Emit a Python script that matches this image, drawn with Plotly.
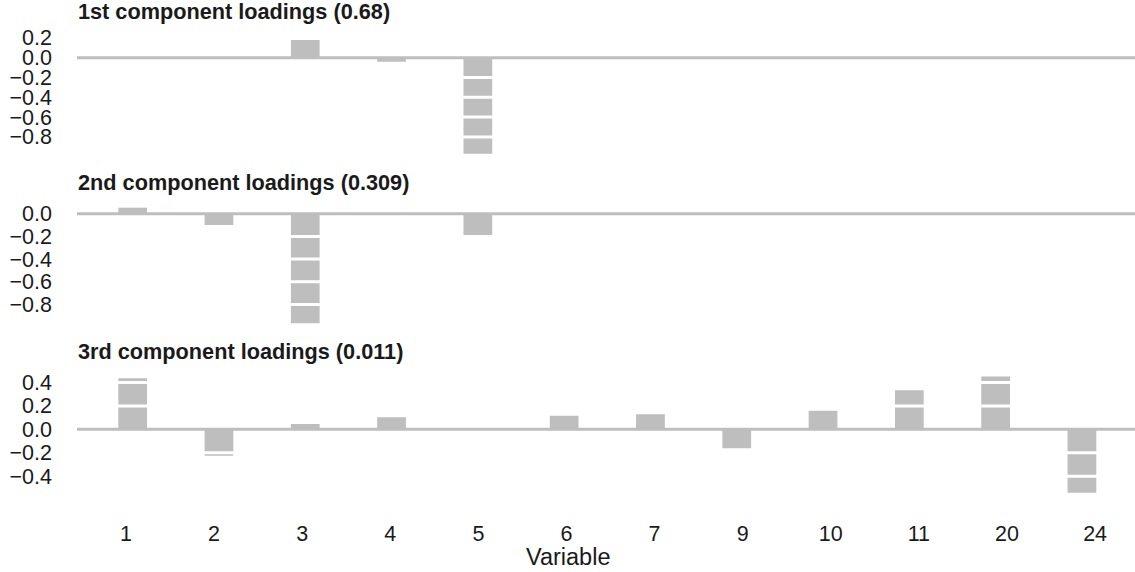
import plotly.graph_objects as go
from plotly.subplots import make_subplots

# ---- data ----
variables = ["1", "2", "3", "4", "5", "6", "7", "9", "10", "11", "20", "24"]
comp1 = [0.0, 0.0, 0.179, -0.04, -0.97, 0.0, 0.0, 0.0, 0.0, 0.0, 0.0, 0.0]
comp2 = [0.053, -0.10, -0.966, 0.0, -0.188, 0.0, 0.0, 0.0, 0.0, 0.0, 0.0, 0.0]
comp3 = [0.436, -0.226, 0.045, 0.103, 0.0, 0.116, 0.128, -0.162, 0.159, 0.333, 0.45, -0.542]
titles = ["1st component loadings (0.68)",
          "2nd component loadings (0.309)",
          "3rd component loadings (0.011)"]
tick_sets = [[0.2, 0.0, -0.2, -0.4, -0.6, -0.8],
             [0.0, -0.2, -0.4, -0.6, -0.8],
             [0.4, 0.2, 0.0, -0.2, -0.4]]
x_label = "Variable"

# ---- layout constants (pixels) ----
W, H = 1135, 572
left_px = 77
panel_px = [(34.3, 159.4), (201.9, 329.1), (370.8, 498.6)]
title_px = [11.3, 182.8, 351.7]
BAR = "#bebebe"
FONT = "Liberation Sans, Arial, sans-serif"
TXT = "#1a1a1a"
TICK_SIZE = 21.5

fig = make_subplots(rows=3, cols=1, shared_xaxes=False)
series = [comp1, comp2, comp3]

for i, vals in enumerate(series):
    r = i + 1
    fig.add_trace(go.Bar(x=variables, y=vals, marker=dict(color=BAR, line=dict(width=0)),
                         showlegend=False, hoverinfo="x+y"), row=r, col=1)
    lo = min(vals + [0.0]); hi = max(vals + [0.0])
    pad = 0.05 * (hi - lo)
    top, bot = panel_px[i]
    yname = "yaxis" if r == 1 else f"yaxis{r}"
    xname = "xaxis" if r == 1 else f"xaxis{r}"
    fig.layout[yname].update(
        domain=[1 - bot / H, 1 - top / H], range=[lo - pad, hi + pad], automargin=False,
        tickvals=tick_sets[i],
        ticktext=[("\u2212" if t < 0 else "") + f"{abs(t):.1f}" for t in tick_sets[i]],
        showgrid=False, zeroline=False, showline=False, ticks="",
        ticklabelstandoff=24, tickfont=dict(family=FONT, size=TICK_SIZE, color=TXT))
    fig.layout[xname].update(
        domain=[left_px / W, 1.0], range=[-0.645, 11.615], type="category", automargin=False,
        categoryorder="array", categoryarray=variables,
        showgrid=False, zeroline=False, showline=False, ticks="", showticklabels=False)
    yref = "y" if r == 1 else f"y{r}"
    xdom = "x domain" if r == 1 else f"x{r} domain"
    # white gridlines drawn over the bars
    for t in tick_sets[i]:
        if t != 0:
            fig.add_shape(type="line", xref=xdom, yref=yref, x0=0, x1=1, y0=t, y1=t,
                          line=dict(color="white", width=3), layer="above")
    # grey zero line
    fig.add_shape(type="line", xref=xdom, yref=yref, x0=0, x1=1, y0=0, y1=0,
                  line=dict(color=BAR, width=3), layer="above")
    fig.add_annotation(text="<b>" + titles[i] + "</b>", xref="paper", yref="paper",
                       x=(left_px - 1.5) / W, y=1 - title_px[i] / H, xanchor="left", yanchor="middle",
                       showarrow=False, font=dict(family=FONT, size=21.7, color=TXT))

# tick-label axis for the variable names (slightly wider spacing than the bars, as in the reference)
fig.add_trace(go.Scatter(x=[0], y=[None], xaxis="x4", yaxis="y3", mode="markers",
                         showlegend=False, hoverinfo="skip"))
fig.update_layout(xaxis4=dict(
    overlaying="x3", anchor="y3", domain=[left_px / W, 1.0], range=[-0.556, 11.453],
    tickvals=list(range(len(variables))), ticktext=variables, automargin=False,
    showgrid=False, zeroline=False, showline=False, ticks="", ticklabelstandoff=20,
    tickfont=dict(family=FONT, size=TICK_SIZE, color=TXT)))

fig.add_annotation(text=x_label, xref="paper", yref="paper",
                   x=0.5, y=1 - 557 / H,
                   xanchor="center", yanchor="middle", showarrow=False,
                   font=dict(family=FONT, size=23.5, color=TXT))

fig.update_layout(width=W, height=H, margin=dict(l=0, r=0, t=0, b=0, pad=0),
                  paper_bgcolor="white", plot_bgcolor="white", bargap=0.667)
fig.write_html("out.html")
